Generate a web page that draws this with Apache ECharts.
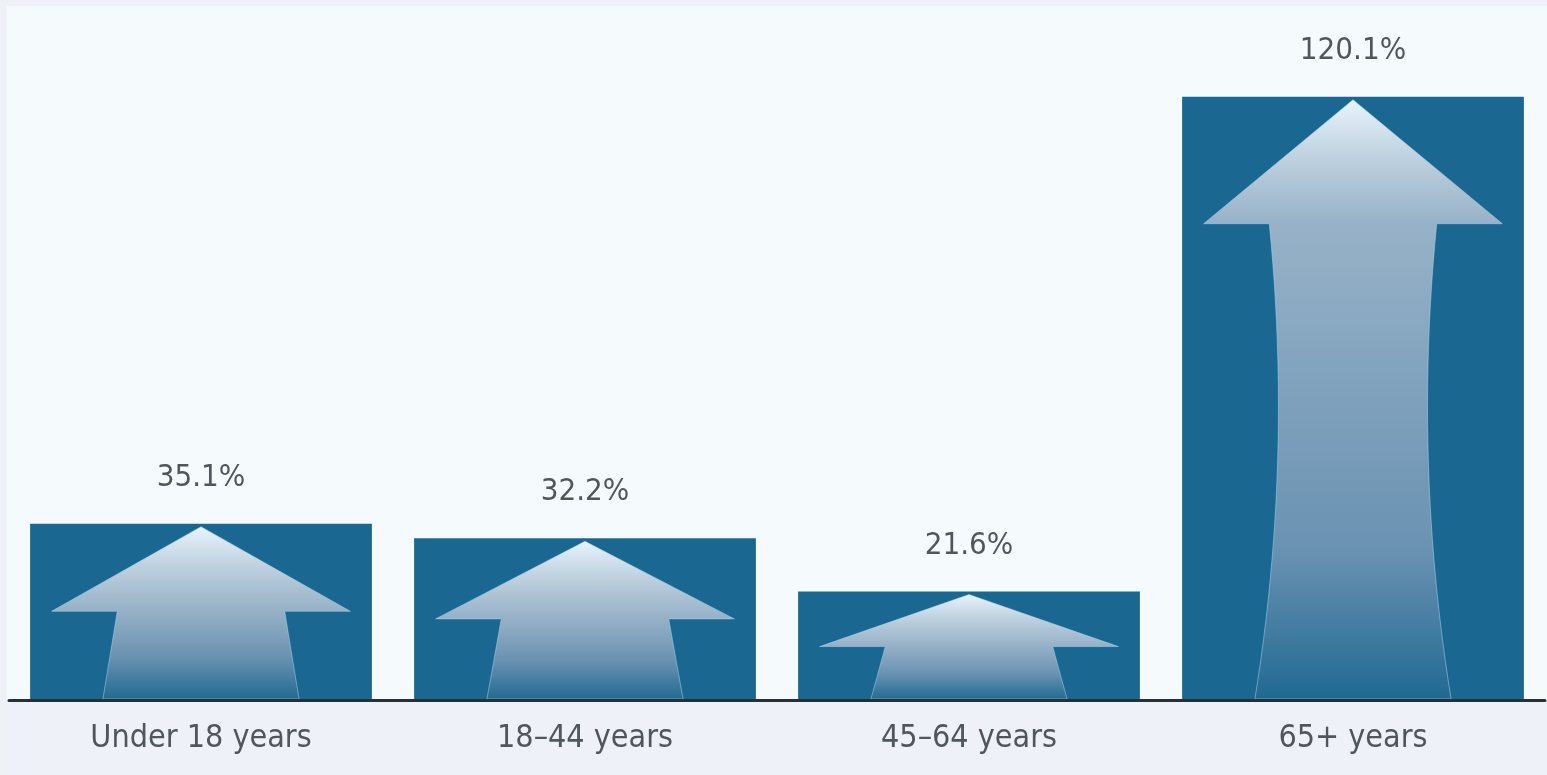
<!DOCTYPE html>
<html>
<head>
<meta charset="utf-8">
<script src="https://cdn.jsdelivr.net/npm/echarts@6/dist/echarts.min.js"></script>
<style>
html,body{margin:0;padding:0;background:#eef2f8;}
#chart{width:1547px;height:775px;}
</style>
</head>
<body>
<div id="chart"></div>
<script>
const categories = ['Under 18 years', '18–44 years', '45–64 years', '65+ years'];
const values = [35.1, 32.2, 21.6, 120.1];

const chart = echarts.init(document.getElementById('chart'));

function lerp(a, b, t) { return a + (b - a) * t; }

function renderItem(params, api) {
  const i = api.value(0), v = api.value(1);
  const top = api.coord([i, v]);
  const base = api.coord([i, 0]);
  const bw = api.size([1, 0])[0] * 0.89;
  const cx = top[0], x0 = cx - bw / 2, yT = top[1], yB = base[1];
  const h = yB - yT;
  const tipY = yT + 3;
  const headH = Math.min(h * 0.48, 124);
  const headBase = tipY + headH;
  const headHalf = bw * 0.437;
  const sTop = bw * 0.245, sBot = bw * 0.287;
  const shaftLen = (yB - 1) - headBase;
  const bend = Math.max(0, Math.min(1, (shaftLen - 120) / 350));
  const ctrl = lerp((sTop + sBot) / 2, 0.175 * bw, bend);
  const midY = (headBase + yB) / 2;
  const N = 24;
  const right = [], left = [];
  for (let k = 0; k <= N; k++) {
    const t = k / N;
    const xx = (1 - t) * (1 - t) * sTop + 2 * t * (1 - t) * ctrl + t * t * sBot;
    const yy = (1 - t) * (1 - t) * headBase + 2 * t * (1 - t) * midY + t * t * (yB - 1);
    right.push([cx + xx, yy]);
    left.push([cx - xx, yy]);
  }
  const pts = [[cx, tipY], [cx + headHalf, headBase]].concat(right, left.reverse(), [[cx - headHalf, headBase]]);
  const hr = headH / h;
  const grad = new echarts.graphic.LinearGradient(0, tipY, 0, yB, [
    { offset: 0, color: '#e6f3fc' },
    { offset: hr * 0.5, color: '#bccfde' },
    { offset: hr, color: '#97b2c8' },
    { offset: Math.max(hr + 0.05, 0.75), color: '#6a92b2' },
    { offset: 1, color: '#206993' }
  ], true);
  return {
    type: 'group',
    children: [
      { type: 'rect', shape: { x: x0, y: yT, width: bw, height: h }, style: { fill: '#1a6892' } },
      { type: 'polygon', shape: { points: pts }, style: { fill: grad, stroke: 'rgba(175,215,238,0.5)', lineWidth: 1 } },
      { type: 'text', style: {
          text: v.toFixed(1) + '%', x: cx, y: yT - 46, align: 'center', verticalAlign: 'middle',
          fontFamily: 'DejaVu Sans Condensed, DejaVu Sans', fontSize: 31, fill: '#50575c'
        } }
    ]
  };
}

chart.setOption({
  backgroundColor: '#f5fbfd',
  animation: false,
  graphic: [
    { type: 'rect', left: 0, top: 701, shape: { width: 1547, height: 74 }, style: { fill: '#eef2f8' }, z: -10 },
    { type: 'rect', left: 0, top: 0, shape: { width: 1547, height: 6 }, style: { fill: '#eef2f6' }, z: -10 },
    { type: 'rect', left: 0, top: 0, shape: { width: 7, height: 775 }, style: { fill: '#eef2f6' }, z: -10 }
  ],
  grid: { left: 9, right: 2, top: 47, bottom: 75 },
  xAxis: {
    type: 'category',
    data: categories,
    axisLine: { show: true, lineStyle: { color: '#263035', width: 3 } },
    axisTick: { show: false },
    axisLabel: { margin: 23, fontSize: 32, color: '#50575c', fontFamily: 'DejaVu Sans Condensed, DejaVu Sans' },
    z: 10
  },
  yAxis: { type: 'value', min: 0, max: 130, show: false, splitLine: { show: false } },
  series: [{
    type: 'custom',
    renderItem: renderItem,
    data: values.map((v, i) => [i, v]),
    encode: { x: 0, y: 1 },
    z: 2
  }]
});
</script>
</body>
</html>
